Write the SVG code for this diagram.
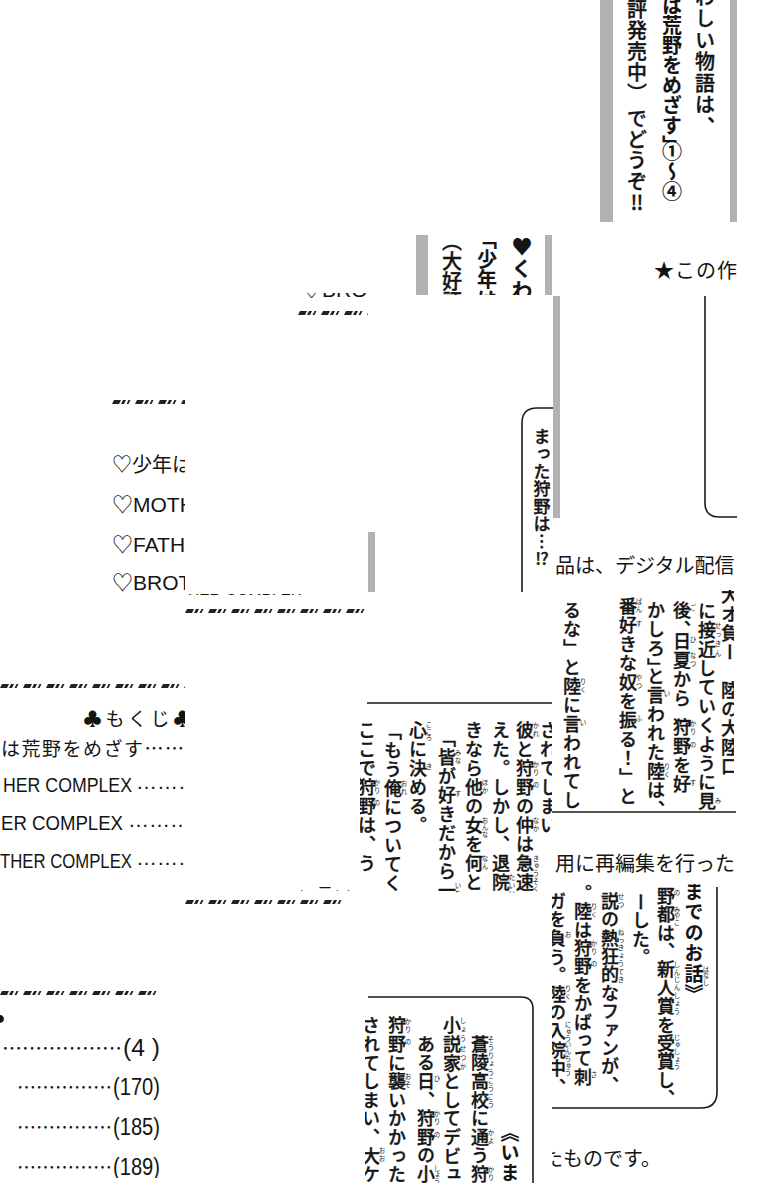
<svg xmlns="http://www.w3.org/2000/svg" width="760" height="1200" viewBox="0 0 760 1200">
<style>
text{fill:#141414}
.j{font-family:'Noto Sans CJK JP',sans-serif}
.l{font-family:'Liberation Sans','Noto Sans CJK JP',sans-serif}
.v{writing-mode:vertical-rl;font-family:'Noto Sans CJK JP',sans-serif;font-weight:500;stroke:#141414;stroke-width:0.35px}
.b{font-weight:700;stroke-width:0.1px}
.s17{font-size:18px;letter-spacing:1px}
.s17h{font-size:18px;letter-spacing:0.6px}
.s17g{font-size:18px;letter-spacing:0.4px}
.r{writing-mode:vertical-rl;font-family:'Noto Sans CJK JP',sans-serif;font-size:6.5px}
.ln{fill:none;stroke:#1a1a1a;stroke-width:1.6}
.gray{fill:#b2b2b2}
</style>
<defs>
<pattern id="dec" width="23" height="4" patternUnits="userSpaceOnUse">
<polygon points="0,4 2,0 9,0 7,4" fill="#222"/>
<polygon points="9,4 11,0 14,0 12,4" fill="#222"/>
<polygon points="14.5,4 16.5,0 18.5,0 16.5,4" fill="#222"/>
</pattern>
<clipPath id="cA"><rect x="600" y="0" width="137" height="222"/></clipPath>
<clipPath id="cB"><rect x="416" y="235" width="136" height="60"/></clipPath>
<clipPath id="cC"><rect x="640" y="250" width="98" height="40"/></clipPath>
<clipPath id="cJ1"><rect x="298" y="293" width="70" height="5"/></clipPath>
<clipPath id="cJ2"><rect x="185" y="592" width="132" height="3"/></clipPath>
<clipPath id="cD"><rect x="522" y="408" width="31" height="184"/></clipPath>
<clipPath id="cH1"><rect x="552" y="545" width="186" height="35"/></clipPath>
<clipPath id="cI"><rect x="112" y="395" width="73" height="198"/></clipPath>
<clipPath id="cE"><rect x="552" y="590" width="182" height="221"/></clipPath>
<clipPath id="cK"><rect x="0" y="683" width="185" height="197"/></clipPath>
<clipPath id="cF"><rect x="360" y="704" width="192" height="189"/></clipPath>
<clipPath id="cN"><rect x="552" y="845" width="186" height="35"/></clipPath>
<clipPath id="cL"><rect x="290" y="885" width="60" height="6"/></clipPath>
<clipPath id="cG"><rect x="552" y="884" width="185" height="226"/></clipPath>
<clipPath id="cM"><rect x="0" y="985" width="165" height="193"/></clipPath>
<clipPath id="cH"><rect x="365" y="998" width="168" height="185"/></clipPath>
<clipPath id="cO"><rect x="552" y="1140" width="130" height="40"/></clipPath>
</defs>
<rect width="760" height="1200" fill="#fff"/>

<g id="tileA">
<g clip-path="url(#cA)">
<text class="v b" x="672" y="-5" style="font-size:20px;letter-spacing:0px">は荒野をめざす」</text>
<text class="v b" x="672" y="141" style="font-size:20px;letter-spacing:0px">①〜④</text>
<text class="v" x="637" y="-1" style="font-size:20px;letter-spacing:1px">評発売中）</text>
<text class="v" x="637" y="108" style="font-size:20px;letter-spacing:1px">でどうぞ‼</text>
<text class="v" x="705" y="-13" style="font-size:20px;letter-spacing:1.5px">わしい物語は、</text>
</g>
<rect class="gray" x="600" y="0" width="13" height="222"/>
<rect class="gray" x="730" y="0" width="7" height="222"/>
</g>

<g id="tileB">
<g clip-path="url(#cB)">
<text class="v b" x="522" y="236" style="font-size:21px;letter-spacing:1px">♥くわ</text>
<text class="v b" x="487" y="229" style="font-size:20px;letter-spacing:0px">「少年は</text>
<text class="v" x="452" y="231" style="font-size:20px;letter-spacing:0px">（大好評</text>
</g>
<rect class="gray" x="416" y="235" width="12" height="60"/>
<rect class="gray" x="545" y="235" width="7" height="60"/>
</g>

<g id="tileC">
<text class="j" x="654" y="278" clip-path="url(#cC)" style="font-size:20px;letter-spacing:1px">★この作</text>
<path class="ln" d="M705,296 V503 Q705,517 719,517 H737"/>
</g>

<g id="tileJ">
<text class="l" x="301" y="297" clip-path="url(#cJ1)" style="font-size:21px">♡BROTHER COMPLEX</text>
<rect width="70" height="4" fill="url(#dec)" transform="translate(298,311)"/>
<text class="l" x="188" y="608" clip-path="url(#cJ2)" style="font-size:21px" textLength="160" lengthAdjust="spacingAndGlyphs">HER COMPLEX………</text>
<rect class="gray" x="368" y="532" width="7" height="60"/>
<rect width="183" height="4" fill="url(#dec)" transform="translate(185,609)"/>
</g>

<g id="tileI">
<rect width="73" height="4" fill="url(#dec)" transform="translate(112,400)"/>
<g clip-path="url(#cI)">
<text class="l" x="112" y="472" style="font-size:20px">♡少年は荒野をめざす</text>
<text class="l" x="112" y="512" style="font-size:21px">♡MOTHER COMPLEX</text>
<text class="l" x="112" y="552" style="font-size:21px">♡FATHER COMPLEX</text>
<text class="l" x="112" y="590" style="font-size:21px">♡BROTHER COMPLEX</text>
</g>
</g>

<g id="tileD">
<text class="v" x="542" y="428" clip-path="url(#cD)" style="font-size:17px;letter-spacing:0.5px">まった狩野は…⁉</text>
<path class="ln" d="M522,592 V423 Q522,408 537,408 H553"/>
<rect class="gray" x="553" y="296" width="7" height="222"/>
<text class="j" x="555" y="573" clip-path="url(#cH1)" style="font-size:20px">品は、デジタル配信</text>
</g>

<g id="tileE">
<g clip-path="url(#cE)">
<text class="v s17" x="730" y="586">大オ負ー　陸の大陸口</text>
<text class="v s17" x="707" y="602">に接近していくように見</text>
<text class="v s17" x="682" y="601">後、</text>
<text class="v s17" x="682" y="632">日夏から「</text>
<text class="v s17" x="682" y="718">狩野を好</text>
<text class="v s17" x="656" y="601">かしろ」</text>
<text class="v s17" x="656" y="667">と言われた陸は、</text>
<text class="v s17" x="628" y="597">番好きな奴を振る！」と</text>
<text class="v s17" x="572" y="601">るな」と陸に言われてし</text>
<text class="r" x="718" y="622" style="letter-spacing:2.8px">せっきん</text>
<text class="r" x="718" y="797">み</text>
<text class="r" x="693" y="604">ご</text>
<text class="r" x="693" y="636">ひ</text>
<text class="r" x="693" y="652" style="letter-spacing:2px">なつ</text>
<text class="r" x="693" y="720" style="letter-spacing:2px">かり</text>
<text class="r" x="693" y="741">の</text>
<text class="r" x="693" y="779">す</text>
<text class="r" x="667" y="690">い</text>
<text class="r" x="667" y="763" style="letter-spacing:2px">りく</text>
<text class="r" x="639" y="598" style="letter-spacing:2px">ばん</text>
<text class="r" x="639" y="620">す</text>
<text class="r" x="639" y="674" style="letter-spacing:2px">やつ</text>
<text class="r" x="639" y="715">ふ</text>
<text class="r" x="583" y="678" style="letter-spacing:2px">りく</text>
<text class="r" x="583" y="719">い</text>
</g>
<path class="ln" d="M552,812 H736"/>
</g>

<g id="tileK" clip-path="url(#cK)">
<rect width="185" height="4" fill="url(#dec)" transform="translate(0,684)"/>
<text class="j" x="83" y="726" style="font-size:19px;letter-spacing:3.5px">♣もくじ♣</text>
<text class="j" x="1" y="756" style="font-size:19px;letter-spacing:1.5px">は荒野をめざす……</text>
<text class="l" x="3" y="792" style="font-size:21px" textLength="129" lengthAdjust="spacingAndGlyphs">HER COMPLEX</text>
<text class="l" x="136" y="789" style="font-size:21px">………</text>
<text class="l" x="1" y="830" style="font-size:21px" textLength="122" lengthAdjust="spacingAndGlyphs">ER COMPLEX</text>
<text class="l" x="128" y="827" style="font-size:21px">………</text>
<text class="l" x="0" y="868" style="font-size:21px" textLength="132" lengthAdjust="spacingAndGlyphs">THER COMPLEX</text>
<text class="l" x="136" y="865" style="font-size:21px">………</text>
</g>

<g id="tileF">
<path class="ln" d="M367,703 H552"/>
<g clip-path="url(#cF)">
<text class="v s17" x="549" y="721">されてしまい</text>
<text class="v s17" x="525" y="721">彼と狩野の仲は急速</text>
<text class="v s17" x="501" y="721">えた。しかし、退院</text>
<text class="v s17" x="474" y="721">きなら他の女を何と</text>
<text class="v s17" x="447" y="729">「皆が好きだから一</text>
<text class="v s17" x="418" y="721">心に決める。</text>
<text class="v s17" x="393" y="722">「もう俺についてく</text>
<text class="v s17" x="367" y="721">ここで狩野は、う</text>
<text class="r" x="536" y="722" style="letter-spacing:2px">かれ</text>
<text class="r" x="536" y="761" style="letter-spacing:2px">かり</text>
<text class="r" x="536" y="781">の</text>
<text class="r" x="536" y="817" style="letter-spacing:2px">なか</text>
<text class="r" x="536" y="855" style="letter-spacing:1.1px">きゅうそく</text>
<text class="r" x="512" y="874" style="letter-spacing:1.5px">たいいん</text>
<text class="r" x="485" y="779" style="letter-spacing:2px">ほか</text>
<text class="r" x="485" y="817" style="letter-spacing:0.5px">おんな</text>
<text class="r" x="485" y="855" style="letter-spacing:2px">なん</text>
<text class="r" x="458" y="749" style="letter-spacing:2px">みな</text>
<text class="r" x="458" y="790">す</text>
<text class="r" x="458" y="882" style="letter-spacing:2px">いち</text>
<text class="r" x="429" y="721" style="letter-spacing:0.3px">こころ</text>
<text class="r" x="429" y="763">き</text>
<text class="r" x="404" y="780" style="letter-spacing:2px">おれ</text>
<text class="r" x="377" y="779" style="letter-spacing:2px">かり</text>
<text class="r" x="377" y="799">の</text>
</g>
</g>

<g id="tileN">
<text class="j" x="555" y="871" clip-path="url(#cN)" style="font-size:20px">用に再編集を行った</text>
</g>

<g id="tileL">
<text class="j" x="300" y="893" clip-path="url(#cL)" style="font-size:14px;letter-spacing:4px">、ー、、</text>
<rect width="160" height="4" fill="url(#dec)" transform="translate(185,900)"/>
</g>

<g id="tileG">
<g clip-path="url(#cG)">
<text class="v b" x="694" y="882" style="font-size:19px;letter-spacing:1.5px">までのお話》</text>
<text class="v s17g" x="666" y="887">野都は、新人賞を受賞し、</text>
<text class="v s17g" x="641" y="893">ーした。</text>
<text class="v s17g" x="610" y="892">説の熱狂的なファンが、</text>
<text class="v s17g" x="583" y="884">。陸は狩野をかばって刺</text>
<text class="v s17h" x="557" y="892">ガを負う。陸の入院中、</text>
<text class="r" x="706" y="966">はなし</text>
<text class="r" x="677" y="889">の</text>
<text class="r" x="677" y="906">みやこ</text>
<text class="r" x="677" y="961" style="letter-spacing:1.3px">しんじんしょう</text>
<text class="r" x="677" y="1034" style="letter-spacing:0.8px">じゅしょう</text>
<text class="r" x="621" y="893" style="letter-spacing:2px">せつ</text>
<text class="r" x="621" y="929" style="letter-spacing:1.3px">ねっきょうてき</text>
<text class="r" x="594" y="903" style="letter-spacing:2px">りく</text>
<text class="r" x="594" y="940" style="letter-spacing:2px">かり</text>
<text class="r" x="594" y="960">の</text>
<text class="r" x="594" y="1071">さ</text>
<text class="r" x="568" y="931">お</text>
<text class="r" x="568" y="985" style="letter-spacing:2px">りく</text>
<text class="r" x="568" y="1021" style="letter-spacing:0.4px">にゅういんちゅう</text>
</g>
<path class="ln" d="M717,887 V1092 Q717,1108 701,1108 H552"/>
</g>

<g id="tileM" clip-path="url(#cM)">
<rect width="160" height="4" fill="url(#dec)" transform="translate(0,991)"/>
<text class="j" x="-14" y="1024" style="font-size:19px">♣</text>
<text class="j" x="2" y="1056" style="font-size:20px">………………</text>
<text class="l" x="123" y="1056" style="font-size:23px" textLength="37" lengthAdjust="spacingAndGlyphs">(4 )</text>
<text class="j" x="17" y="1095" style="font-size:20px" textLength="95" lengthAdjust="spacingAndGlyphs">……………</text>
<text class="l" x="113" y="1095" style="font-size:23px" textLength="47" lengthAdjust="spacingAndGlyphs">(170)</text>
<text class="j" x="17" y="1135" style="font-size:20px" textLength="95" lengthAdjust="spacingAndGlyphs">……………</text>
<text class="l" x="113" y="1135" style="font-size:23px" textLength="47" lengthAdjust="spacingAndGlyphs">(185)</text>
<text class="j" x="17" y="1175" style="font-size:20px" textLength="95" lengthAdjust="spacingAndGlyphs">……………</text>
<text class="l" x="113" y="1175" style="font-size:23px" textLength="47" lengthAdjust="spacingAndGlyphs">(189)</text>
</g>

<g id="tileH">
<g clip-path="url(#cH)">
<text class="v b" x="510" y="1123" style="font-size:19px;letter-spacing:1px">《いまま</text>
<text class="v s17h" x="480" y="1035">蒼陵高校に通う狩</text>
<text class="v s17h" x="452" y="1016.5">小説家としてデビュ</text>
<text class="v s17h" x="426" y="1035">ある日、狩野の小</text>
<text class="v s17h" x="397" y="1016.5">狩野に襲いかかった</text>
<text class="v s17h" x="371" y="1016.5">されてしまい、大ケ</text>
<text class="r" x="491" y="1036" style="letter-spacing:1.7px">そうりょうこうこう</text>
<text class="r" x="491" y="1129" style="letter-spacing:2px">かよ</text>
<text class="r" x="491" y="1166" style="letter-spacing:2px">かり</text>
<text class="r" x="463" y="1017" style="letter-spacing:2.8px">しょうせつか</text>
<text class="r" x="437" y="1075">ひ</text>
<text class="r" x="437" y="1110" style="letter-spacing:2px">かり</text>
<text class="r" x="437" y="1131">の</text>
<text class="r" x="437" y="1165">しょう</text>
<text class="r" x="408" y="1018" style="letter-spacing:2px">かり</text>
<text class="r" x="408" y="1038">の</text>
<text class="r" x="408" y="1073" style="letter-spacing:2px">おそ</text>
<text class="r" x="382" y="1147" style="letter-spacing:2px">おお</text>
</g>
<path class="ln" d="M368,997 H521 Q533,997 533,1009 V1183"/>
</g>

<g id="tileO">
<text class="j" x="543" y="1166" clip-path="url(#cO)" style="font-size:20px">たものです。</text>
</g>
</svg>
